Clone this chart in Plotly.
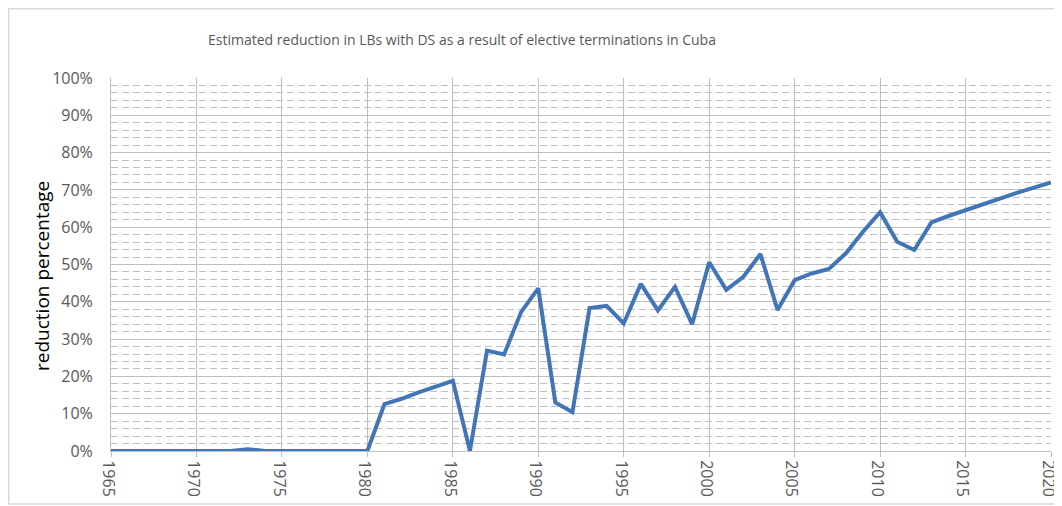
import plotly.graph_objects as go

years = list(range(1965, 2021))
reduction = [
    0, 0, 0, 0, 0, 0, 0, 0, 0.005, 0,            # 1965-1974
    0, 0, 0, 0, 0, 0, 0.126, 0.14, 0.157, 0.172,  # 1975-1984
    0.188, 0, 0.269, 0.259, 0.373, 0.436, 0.13, 0.104, 0.383, 0.389,  # 1985-1994
    0.342, 0.448, 0.377, 0.44, 0.34, 0.506, 0.432, 0.467, 0.528, 0.378,  # 1995-2004
    0.458, 0.476, 0.488, 0.53, 0.588, 0.64, 0.561, 0.539, 0.613, 0.63,  # 2005-2014
    0.646, 0.662, 0.677, 0.692, 0.706, 0.72,  # 2015-2020
]
y_ticks = [i / 10 for i in range(11)]
x_ticks = list(range(1965, 2021, 5))

title_text = "Estimated reduction in LBs with DS as a result of elective terminations in Cuba"
y_title = "reduction percentage"

# the page body adds an 8px margin, so work in figure pixels = page pixels - 8
OFF = 8
W, H = 1062 - OFF, 506 - OFF
left, right, top, bottom = 111 - OFF, 11, 78 - OFF, 55
pw, ph = W - left - right, H - top - bottom

grid = "#bfbfbf"
label_col = "#595959"
font_name = "Open Sans"

fig = go.Figure()
fig.add_trace(go.Scatter(
    x=years, y=reduction, mode="lines",
    line=dict(color="#4275b8", width=4),
    showlegend=False,
))

fig.update_layout(
    width=W, height=H,
    margin=dict(l=left, r=right, t=top, b=bottom),
    paper_bgcolor="white", plot_bgcolor="white",
    font=dict(family=font_name, color=label_col, size=13),
    title=dict(text=title_text, x=(462 - OFF) / W, xanchor="center", xref="container",
               y=1 - (40 - OFF) / H, yanchor="middle", yref="container",
               font=dict(size=14, color=label_col, family=font_name)),
)

fig.update_xaxes(
    range=[1965, 2020], tickvals=x_ticks, tickangle=90,
    showgrid=True, gridcolor=grid, gridwidth=1,
    ticks="outside", ticklen=5, tickcolor=grid,
    showline=True, linecolor=grid, linewidth=1,
    tickfont=dict(size=16, color=label_col),
    ticklabeloverflow="allow", ticklabelshift=-3, automargin=False,
    zeroline=False,
)
fig.update_yaxes(
    range=[0, 1], tickvals=y_ticks, tickformat=".0%",
    showgrid=True, gridcolor=grid, gridwidth=1,
    minor=dict(dtick=0.02, showgrid=True, gridcolor=grid, griddash="7px,4px", gridwidth=1),
    ticks="", ticklabelstandoff=14,
    showline=True, linecolor=grid, linewidth=1,
    tickfont=dict(size=16, color=label_col),
    automargin=False,
    zeroline=False,
)

# y-axis title, centred a little below the plot middle as in the reference
fig.add_annotation(text=y_title, textangle=-90, showarrow=False,
                   xref="paper", yref="paper",
                   x=(42 - OFF - left) / pw, xanchor="center",
                   y=(451 - 276) / ph, yanchor="middle",
                   font=dict(size=19, color="black", family=font_name))

# outer chart frame (partly cropped in the reference)
fig.add_shape(type="rect", xref="paper", yref="paper",
              x0=(0.75 - left) / pw, x1=(W + 40 - left) / pw,
              y0=(ph + top - (504 - OFF)) / ph, y1=(ph + top - 0.75) / ph,
              line=dict(color="#d9d9d9", width=1.5), layer="below")

fig.write_html("out.html")
